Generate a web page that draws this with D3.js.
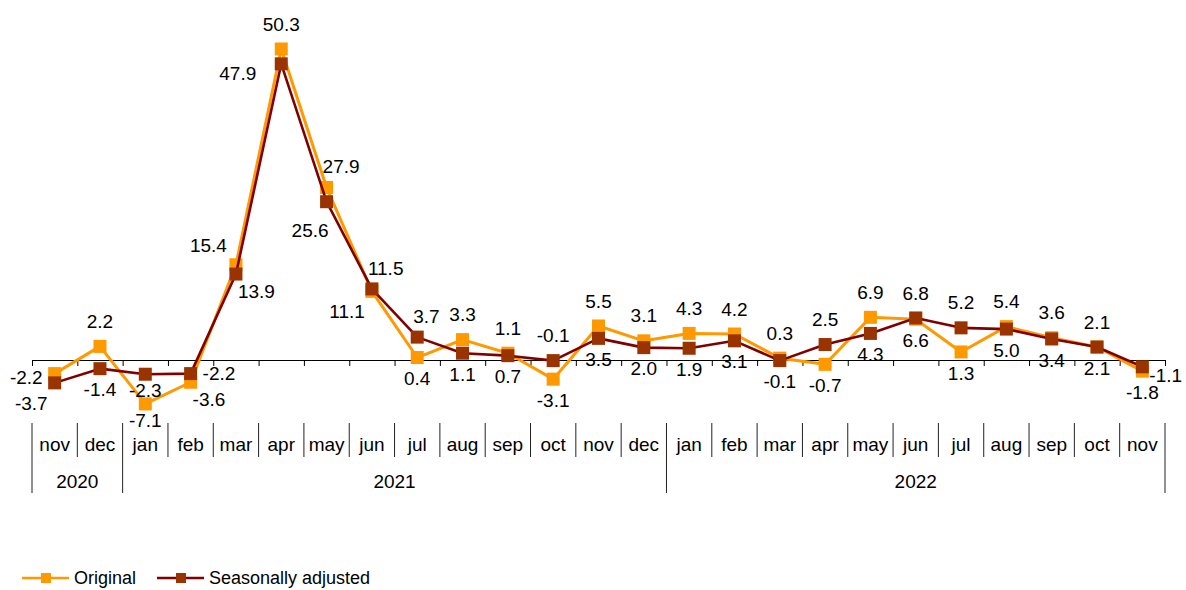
<!DOCTYPE html>
<html>
<head>
<meta charset="utf-8">
<script src="https://cdn.jsdelivr.net/npm/d3@7"></script>
<style>
  html, body { margin: 0; padding: 0; background: #fff; }
  svg { display: block; font-family: "Liberation Sans", Arial, sans-serif; }
</style>
</head>
<body>
<svg id="chart" width="1186" height="590"></svg>
<script>
// ---- Data ----
const months = ["nov","dec","jan","feb","mar","apr","may","jun","jul","aug","sep","oct","nov","dec",
                "jan","feb","mar","apr","may","jun","jul","aug","sep","oct","nov"];
const years = [
  { label: "2020", start: 0, end: 2 },
  { label: "2021", start: 2, end: 14 },
  { label: "2022", start: 14, end: 25 }
];
const original = [-2.2, 2.2, -7.1, -3.6, 15.4, 50.3, 27.9, 11.1, 0.4, 3.3, 1.1, -3.1, 5.5, 3.1,
                  4.3, 4.2, 0.3, -0.7, 6.9, 6.6, 1.3, 5.4, 3.6, 2.1, -1.8];
const seasonal = [-3.7, -1.4, -2.3, -2.2, 13.9, 47.9, 25.6, 11.5, 3.7, 1.1, 0.7, -0.1, 3.5, 2.0,
                  1.9, 3.1, -0.1, 2.5, 4.3, 6.8, 5.2, 5.0, 3.4, 2.1, -1.1];
const seriesNames = ["Original", "Seasonally adjusted"];

// ---- Label placement codes (layout, not data) ----
const origPlace = ["l","a","b2","br","al","a","ar","bl","b","a","a","b","a","a",
                   "a","a","a","b","a","b","b","a","a","a","b"];
const saPlace   = ["bl","b","b2","r","br","L","bL","ar","ar","b","b","a","b","b",
                   "b","b","b","a","b","a","a","b","b","b","rb"];
const placeStyle = {
  a:  { anchor: "middle", dx: 0,   dy: -25 },
  b:  { anchor: "middle", dx: 0,   dy: 21 },
  b2: { anchor: "middle", dx: 0,   dy: 16 },
  l:  { anchor: "end",    dx: -12, dy: 4 },
  r:  { anchor: "start",  dx: 12,  dy: 0 },
  bl: { anchor: "end",    dx: -7,  dy: 20 },
  br: { anchor: "start",  dx: 2,   dy: 17 },
  al: { anchor: "end",    dx: -9,  dy: -19 },
  ar: { anchor: "start",  dx: -4,  dy: -21 },
  L:  { anchor: "end",    dx: -25, dy: 10 },
  bL: { anchor: "end",    dx: 2,   dy: 29 },
  rb: { anchor: "start",  dx: 7,   dy: 9 }
};

const colors = { origLine: "#FF9900", origMark: "#FF9900", saLine: "#800000", saMark: "#993300" };

// ---- Scales ----
const svg = d3.select("#chart");
const left = 32, right = 1165;
const x = d3.scaleBand().domain(d3.range(months.length)).range([left, right]).padding(0);
const xb = d3.scaleLinear().domain([0, months.length]).range([left, right]);
const y = d3.scaleLinear().domain([-8, 55]).range([360 + 8 * 6.183, 360 - 55 * 6.183]);
const cx = i => x(i) + x.bandwidth() / 2;

// ---- Axis at zero ----
const axis = d3.axisBottom(xb).tickValues(d3.range(months.length + 1)).tickSize(6).tickSizeOuter(0).tickFormat("");
const gAxis = svg.append("g").attr("transform", `translate(0,${y(0)})`).call(axis);
gAxis.selectAll("path, line").attr("stroke", "#000").attr("stroke-width", 1);

// ---- Category labels & separators ----
const catG = svg.append("g");
const longSeps = new Set(years.map(d => d.start).concat([months.length]));
d3.range(months.length + 1).forEach(i => {
  catG.append("line")
    .attr("x1", xb(i)).attr("x2", xb(i))
    .attr("y1", 423).attr("y2", longSeps.has(i) ? 493 : 457)
    .attr("stroke", "#222").attr("stroke-width", 1);
});
catG.selectAll("text.m").data(months).join("text")
  .attr("class", "m")
  .attr("x", (d, i) => cx(i)).attr("y", 451)
  .attr("text-anchor", "middle").attr("font-size", 19).attr("fill", "#000")
  .text(d => d);
catG.selectAll("text.y").data(years).join("text")
  .attr("class", "y")
  .attr("x", d => (xb(d.start) + xb(d.end)) / 2).attr("y", 488)
  .attr("text-anchor", "middle").attr("font-size", 19).attr("fill", "#000")
  .text(d => d.label);

// ---- Lines ----
const line = d3.line().x((d, i) => cx(i)).y(d => y(d));
svg.append("path").datum(original).attr("d", line)
  .attr("fill", "none").attr("stroke", colors.origLine).attr("stroke-width", 3).attr("stroke-linejoin", "round");
const ms = 13;
svg.append("g").selectAll("rect").data(original).join("rect")
  .attr("x", (d, i) => cx(i) - ms / 2).attr("y", d => y(d) - ms / 2)
  .attr("width", ms).attr("height", ms).attr("fill", colors.origMark);

svg.append("path").datum(seasonal).attr("d", line)
  .attr("fill", "none").attr("stroke", colors.saLine).attr("stroke-width", 2.6).attr("stroke-linejoin", "round");
svg.append("g").selectAll("rect").data(seasonal).join("rect")
  .attr("x", (d, i) => cx(i) - ms / 2).attr("y", d => y(d) - ms / 2)
  .attr("width", ms).attr("height", ms).attr("fill", colors.saMark);

// ---- Data labels ----
function addLabels(values, places) {
  svg.append("g").selectAll("text").data(values).join("text")
    .attr("x", (d, i) => cx(i) + placeStyle[places[i]].dx)
    .attr("y", (d, i) => y(d) + placeStyle[places[i]].dy)
    .attr("dy", "0.35em")
    .attr("text-anchor", (d, i) => placeStyle[places[i]].anchor)
    .attr("font-size", 19).attr("fill", "#000")
    .text(d => d3.format(".1f")(d).replace("−", "-"));
}
addLabels(original, origPlace);
addLabels(seasonal, saPlace);

// ---- Legend ----
const legend = svg.append("g").attr("transform", "translate(0,578)");
const items = [
  { name: seriesNames[0], line: colors.origLine, mark: colors.origMark, x0: 22 },
  { name: seriesNames[1], line: colors.saLine, mark: colors.saMark, x0: 157 }
];
items.forEach(it => {
  legend.append("line").attr("x1", it.x0).attr("x2", it.x0 + 47).attr("y1", 0).attr("y2", 0)
    .attr("stroke", it.line).attr("stroke-width", 2.6);
  legend.append("rect").attr("x", it.x0 + 19).attr("y", -5).attr("width", 10).attr("height", 10).attr("fill", it.mark);
  legend.append("text").attr("x", it.x0 + 52).attr("y", 0).attr("dy", "0.35em")
    .attr("font-size", 18).attr("fill", "#000").text(it.name);
});
</script>
</body>
</html>
